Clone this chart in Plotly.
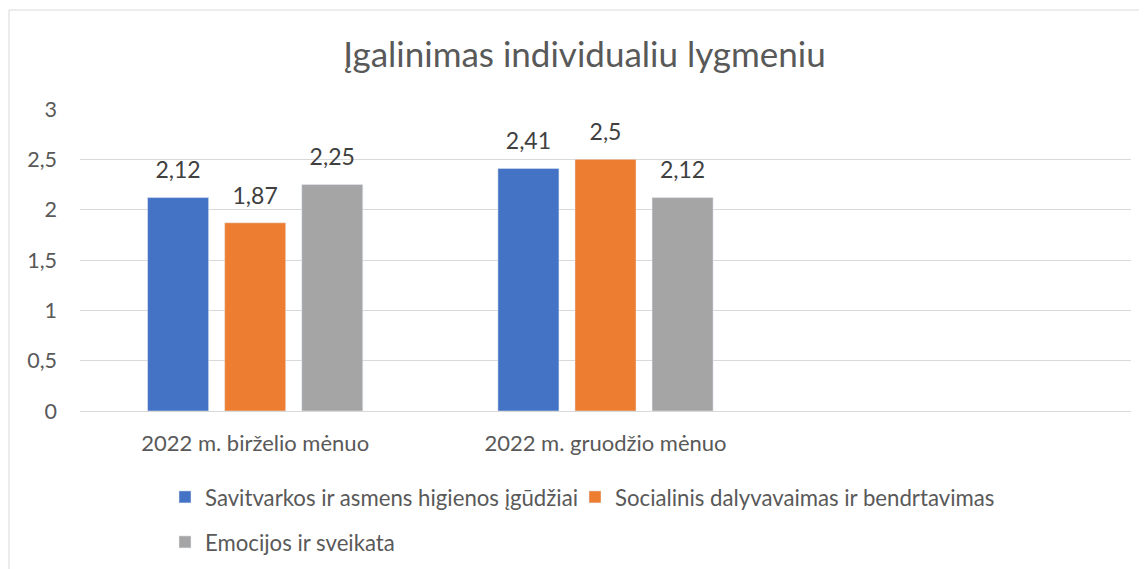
import plotly.graph_objects as go

categories = ["2022 m. birželio mėnuo", "2022 m. gruodžio mėnuo", " "]
series_names = [
    "Savitvarkos ir asmens higienos įgūdžiai",
    "Socialinis dalyvavaimas ir bendrtavimas",
    "Emocijos ir sveikata",
]
savitvarka = [2.12, 2.41]
socialinis = [1.87, 2.50]
emocijos = [2.25, 2.12]
colors = ["#4472C4", "#ED7D31", "#A5A5A5"]
title_text = "Įgalinimas individualiu lygmeniu"

FONT = "Lato"
TXT = "#595959"
BARGAP = 0.34
W, H = 1147, 569
ML, MT, PW, PH = 72, 101, 1051, 302

fig = go.Figure()
legends = ["legend", "legend2", "legend3"]
for i, (name, vals, col) in enumerate(zip(series_names, [savitvarka, socialinis, emocijos], colors)):
    xs = categories[:len(vals)]
    fig.add_trace(go.Bar(
        x=xs, y=vals, name=name, marker=dict(color=col),
        offsetgroup=str(i), alignmentgroup="a", legend=legends[i],
    ))
    # value labels aligned with the grouped bars
    fig.add_trace(go.Scatter(
        x=xs, y=vals, mode="markers+text", showlegend=False, hoverinfo="skip",
        marker=dict(size=20, color="rgba(0,0,0,0)"),
        texttemplate="%{y:.2~f}", textposition="top center",
        textfont=dict(family=FONT, size=23, color="#404040"),
        offsetgroup=str(i), alignmentgroup="a", cliponaxis=False,
    ))

leg_common = dict(orientation="h", xref="container", yref="container",
                  xanchor="left", yanchor="middle",
                  font=dict(size=22.2, color=TXT), bgcolor="rgba(0,0,0,0)")

fig.update_layout(
    width=W, height=H,
    margin=dict(l=ML, r=W - ML - PW, t=MT, b=H - MT - PH),
    paper_bgcolor="white", plot_bgcolor="white",
    separators=",.",
    barmode="group", bargap=BARGAP, bargroupgap=0.208,
    scattermode="group", scattergap=BARGAP,
    font=dict(family=FONT, color=TXT, size=20),
    title=dict(text=title_text, x=576.5 / W, xref="container", xanchor="center",
               y=1 - 47 / H, yanchor="middle",
               font=dict(family=FONT, size=35, color=TXT)),
    xaxis=dict(categoryorder="array", categoryarray=categories, type="category",
               range=[-0.5, 2.5], showgrid=False, showline=True, linecolor="#D9D9D9",
               ticks="", ticklabelstandoff=13, tickfont=dict(size=22, color=TXT),
               automargin=False),
    yaxis=dict(range=[0, 3], dtick=0.5, tick0=0, showgrid=True, gridcolor="#D9D9D9",
               gridwidth=1, zeroline=False, showline=False, ticks="",
               ticklabelstandoff=22, tickfont=dict(size=21.5, color=TXT),
               automargin=False),
    legend=dict(leg_common, x=157 / W, y=1 - 489 / H),
    legend2=dict(leg_common, x=567 / W, y=1 - 489 / H),
    legend3=dict(leg_common, x=157 / W, y=1 - 534 / H),
    shapes=[dict(type="rect", xref="paper", yref="paper",
                 x0=(1 - ML) / PW, x1=1.2, y0=-1.0, y1=(MT + PH - 2) / PH,
                 line=dict(color="#D9D9D9", width=1), fillcolor="rgba(0,0,0,0)",
                 layer="below")],
)

fig.write_html("out.html")
